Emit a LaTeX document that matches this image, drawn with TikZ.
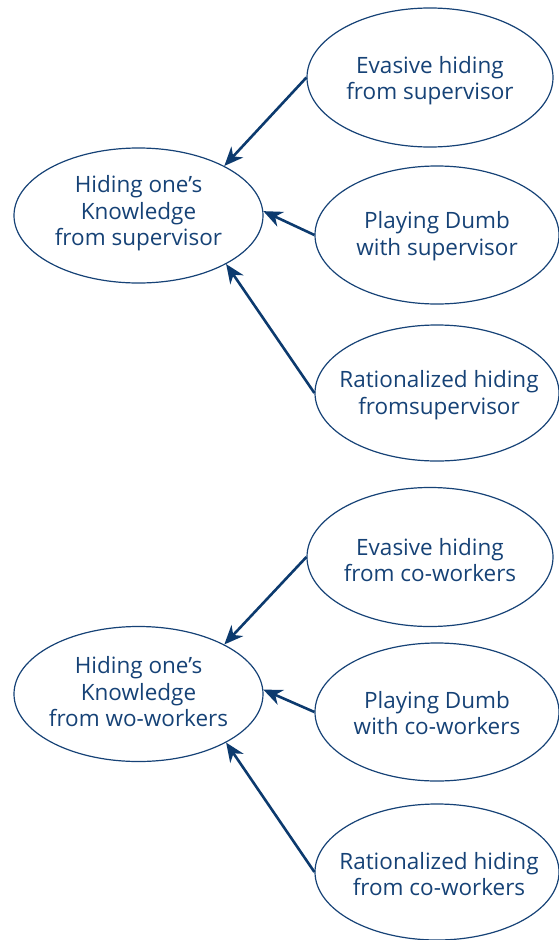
\documentclass[tikz,border=0pt]{standalone}
\usepackage{fontspec}
\setmainfont{Open Sans}
\usetikzlibrary{shapes.geometric,arrows.meta}
\definecolor{navy}{RGB}{22,66,118}
\definecolor{arrowblue}{RGB}{12,58,110}
\begin{document}
\begin{tikzpicture}[x=1pt,y=-1pt,
  oval/.style={ellipse,draw=navy,line width=1.2pt,inner sep=0pt},
  lbl/.style={align=center,text=navy,inner sep=0pt,font=\fontsize{22.5}{26.5}\selectfont},
  link/.style={draw=arrowblue,line width=2.6pt,-{Stealth[length=19pt,width=16pt,inset=6pt]}}]
\useasboundingbox (0,0) rectangle (559,940);
% top group
\node[oval,minimum width=249pt,minimum height=135pt] (A) at (138.5,215.5) {};
\node[oval,minimum width=246pt,minimum height=139pt] (E1) at (430,77.5) {};
\node[oval,minimum width=244pt,minimum height=138pt] (E2) at (437,235) {};
\node[oval,minimum width=244pt,minimum height=136pt] (E3) at (437,393) {};
\node[lbl] (tA) at ([yshift=2pt]A.center) {Hiding one’s\\Knowledge\\from supervisor};
\node[lbl] (tE1) at ([yshift=-3pt]E1.center) {Evasive hiding\\from supervisor};
\node[lbl] (tE2) at ([yshift=-1pt]E2.center) {Playing Dumb\\with supervisor};
\node[lbl] (tE3) at ([xshift=2pt,yshift=-2pt]E3.center) {Rationalized hiding\\fromsupervisor};
\draw[link] (E1.west) -- (A.30);
\draw[link] (E2.west) -- (A.2);
\draw[link] (E3.west) -- (A.-29);
% bottom group
\node[oval,minimum width=249pt,minimum height=135pt] (B) at (138.5,694) {};
\node[oval,minimum width=246pt,minimum height=139pt] (F1) at (430,557) {};
\node[oval,minimum width=244pt,minimum height=138pt] (F2) at (437,712) {};
\node[oval,minimum width=244pt,minimum height=136pt] (F3) at (437,872) {};
\node[lbl] (tB) at ([yshift=2pt]B.center) {Hiding one’s\\Knowledge\\from wo-workers};
\node[lbl] (tF1) at ([yshift=-3pt]F1.center) {Evasive hiding\\from co-workers};
\node[lbl] (tF2) at ([yshift=-1pt]F2.center) {Playing Dumb\\with co-workers};
\node[lbl] (tF3) at ([xshift=2pt,yshift=-2pt]F3.center) {Rationalized hiding\\from co-workers};
\draw[link] (F1.west) -- (B.30);
\draw[link] (F2.west) -- (B.2);
\draw[link] (F3.west) -- (B.-29);
\end{tikzpicture}
\end{document}
